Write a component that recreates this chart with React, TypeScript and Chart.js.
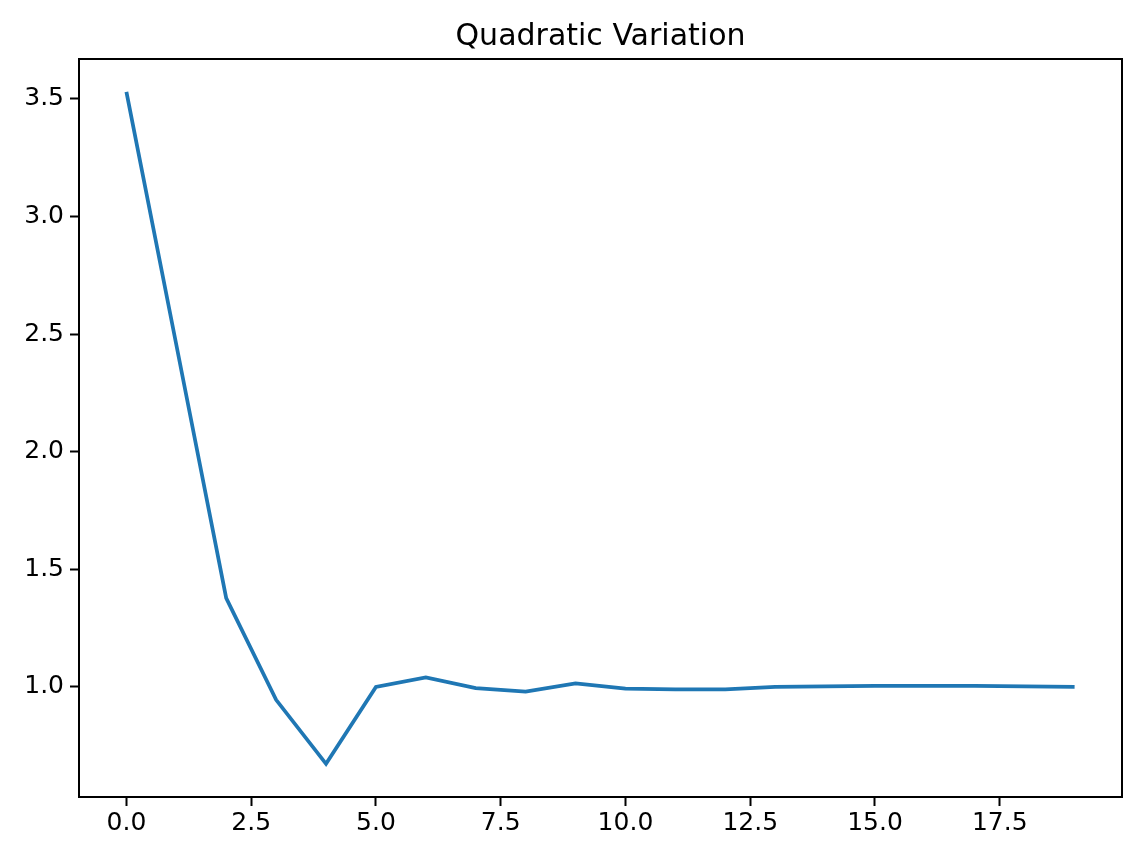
import React, { useEffect, useRef } from "react";
import { Chart, registerables } from "chart.js";
Chart.register(...registerables);

const xValues = [0,1,2,3,4,5,6,7,8,9,10,11,12,13,14,15,16,17,18,19];
const yValues = [3.53,2.455,1.378,0.945,0.673,1.0,1.04,0.995,0.98,1.015,0.993,0.99,0.99,1.0,1.002,1.005,1.005,1.005,1.002,1.0];
const xTicks = [0,2.5,5,7.5,10,12.5,15,17.5];
const yTicks = [1.0,1.5,2.0,2.5,3.0,3.5];
const title = "Quadratic Variation";
const FONT = "'DejaVu Sans', sans-serif";

export default function App() {
  const ref = useRef<HTMLCanvasElement>(null);
  useEffect(() => {
    document.body.style.margin = "0";
    const frame = {
      id: "frame",
      afterDraw(c: any) {
        const { ctx, chartArea: a } = c;
        ctx.save();
        ctx.strokeStyle = "#000";
        ctx.lineWidth = 2;
        ctx.strokeRect(a.left, a.top, a.right - a.left, a.bottom - a.top);
        ctx.fillStyle = "#000";
        ctx.font = "30px " + FONT;
        ctx.textAlign = "center";
        ctx.textBaseline = "alphabetic";
        ctx.fillText(title, (a.left + a.right) / 2, 45);
        ctx.restore();
      },
    };
    const chart = new Chart(ref.current!, {
      type: "line",
      data: {
        datasets: [{
          data: xValues.map((x, i) => ({ x, y: yValues[i] })),
          borderColor: "#1f77b4",
          borderWidth: 3.75,
          pointRadius: 0,
          tension: 0,
        }],
      },
      options: {
        animation: false,
        responsive: false,
        layout: { padding: { top: 59, right: 19, left: 0, bottom: 0 } },
        plugins: { legend: { display: false }, tooltip: { enabled: false } },
        scales: {
          x: {
            type: "linear", min: -0.95, max: 19.95,
            afterBuildTicks: (s: any) => { s.ticks = xTicks.map(v => ({ value: v })); },
            afterFit: (s: any) => { s.height = 65; },
            grid: { drawOnChartArea: false, tickLength: 9, tickColor: "#000", tickWidth: 2 },
            border: { color: "#000", width: 2 },
            ticks: { color: "#000", font: { family: FONT, size: 25 }, padding: 2, maxRotation: 0,
              callback: (v: any) => Number(v).toFixed(1) },
          },
          y: {
            type: "linear", min: 0.532, max: 3.67,
            afterBuildTicks: (s: any) => { s.ticks = yTicks.map(v => ({ value: v })); },
            afterFit: (s: any) => { s.width = 79; },
            grid: { drawOnChartArea: false, tickLength: 9, tickColor: "#000", tickWidth: 2 },
            border: { color: "#000", width: 2 },
            ticks: { color: "#000", font: { family: FONT, size: 25 }, padding: 6,
              callback: (v: any) => Number(v).toFixed(1) },
          },
        },
      },
      plugins: [frame],
    });
    return () => chart.destroy();
  }, []);
  return <canvas ref={ref} width={1141} height={862} style={{ display: "block", background: "#fff" }} />;
}
